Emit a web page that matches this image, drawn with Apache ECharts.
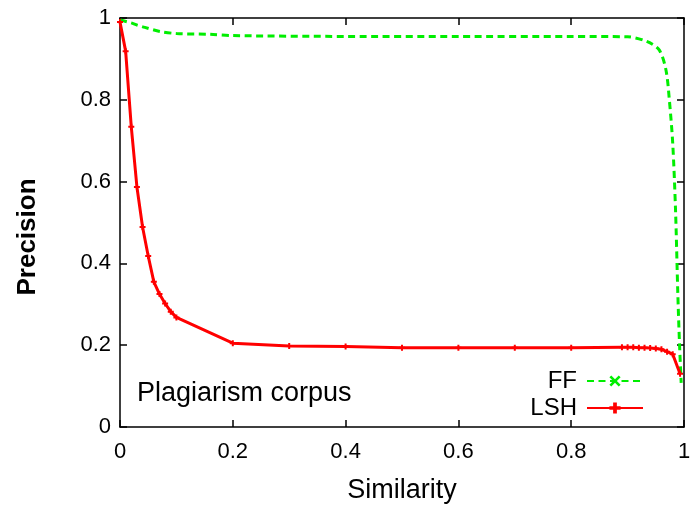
<!DOCTYPE html>
<html><head><meta charset="utf-8">
<script src="https://cdn.jsdelivr.net/npm/echarts@6/dist/echarts.min.js"></script>
<style>html,body{margin:0;padding:0;background:#fff}#c{width:691px;height:506px}</style>
</head><body><div id="c"></div>
<script>
var lshX = [0,0.01,0.02,0.03,0.04,0.05,0.06,0.07,0.08,0.09,0.1,0.2,0.3,0.4,0.5,0.6,0.7,0.8,0.89,0.9,0.91,0.92,0.93,0.94,0.95,0.96,0.97,0.98,0.993];
var lshY = [0.99,0.919,0.734,0.587,0.489,0.418,0.355,0.325,0.302,0.282,0.268,0.205,0.198,0.197,0.194,0.194,0.194,0.194,0.195,0.195,0.195,0.194,0.194,0.193,0.192,0.19,0.184,0.178,0.13];
var ffX = [0,0.02,0.03,0.044,0.071,0.1,0.16,0.2,0.4,0.6,0.8,0.9,0.935,0.956,0.968,0.974,0.98,0.985,0.989,0.992,0.995];
var ffY = [0.995,0.988,0.983,0.977,0.967,0.962,0.96,0.957,0.955,0.955,0.955,0.954,0.942,0.922,0.873,0.8,0.694,0.53,0.328,0.205,0.108];
var xTicks = [0,0.2,0.4,0.6,0.8,1];
var yTicks = [0,0.2,0.4,0.6,0.8,1];

function pairs(xs, ys){ return xs.map(function(x,i){return [x, ys[i]];}); }
var font = 'Liberation Sans, Arial, sans-serif';
var chart = echarts.init(document.getElementById('c'));
var axLine = {show:true, onZero:false, lineStyle:{color:'#000', width:1.5}};
var tick = {show:true, inside:true, length:7, lineStyle:{color:'#000', width:1.5}};
function fmt(v){ return String(+(+v).toFixed(1)); }
chart.setOption({
  animation:false,
  grid:{left:120, right:7, top:18, bottom:79, containLabel:false, outerBoundsMode:'none'},
  xAxis:[{
    type:'value', min:0, max:1, interval:0.2, position:'bottom',
    name:'Similarity', nameLocation:'middle', nameGap:50,
    nameTextStyle:{fontFamily:font, fontSize:27, color:'#000'},
    axisLine:axLine, axisTick:tick, splitLine:{show:false},
    axisLabel:{fontFamily:font, fontSize:22, color:'#000', margin:14, formatter:fmt}
  },{
    type:'value', min:0, max:1, interval:0.2, position:'top',
    axisLine:axLine, axisTick:tick, splitLine:{show:false}, axisLabel:{show:false}
  }],
  yAxis:[{
    type:'value', min:0, max:1, interval:0.2, position:'left',
    axisLine:axLine, axisTick:tick, splitLine:{show:false},
    axisLabel:{fontFamily:font, fontSize:22, color:'#000', margin:9, formatter:fmt}
  },{
    type:'value', min:0, max:1, interval:0.2, position:'right',
    axisLine:axLine, axisTick:tick, splitLine:{show:false}, axisLabel:{show:false}
  }],
  legend:{
    orient:'vertical', right:42, top:364, align:'right', itemGap:3,
    itemWidth:56, itemHeight:14,
    formatter:function(n){ return '{a|' + n + '}'; },
    textStyle:{fontFamily:font, fontSize:24, color:'#000',
      rich:{a:{fontFamily:font, fontSize:24, color:'#000', padding:[0,5,0,0]}}},
    data:['FF','LSH']
  },
  graphic:[
    {type:'text', x:137, y:394,
      style:{text:'Plagiarism corpus', font:'27px '+font, fill:'#000', textVerticalAlign:'middle'}},
    {type:'text', x:28, y:237, rotation:Math.PI/2,
      style:{text:'Precision', font:'bold 26px '+font, fill:'#000', textAlign:'center', textVerticalAlign:'middle'}}
  ],
  series:[{
    name:'FF', type:'line', data:pairs(ffX, ffY), smooth:0.3,
    symbol:'path://M0,1L1,0L3,2L5,0L6,1L4,3L6,5L5,6L3,4L1,6L0,5L2,3Z', symbolSize:9, showSymbol:false,
    lineStyle:{color:'#00ee00', width:3, type:[7,4.5]}, itemStyle:{color:'#00ee00'}
  },{
    name:'LSH', type:'line', data:pairs(lshX, lshY),
    symbol:'path://M2,0H4V2H6V4H4V6H2V4H0V2H2Z', symbolSize:6,
    lineStyle:{color:'#ff0000', width:3}, itemStyle:{color:'#ff0000'}
  }]
});
</script></body></html>
